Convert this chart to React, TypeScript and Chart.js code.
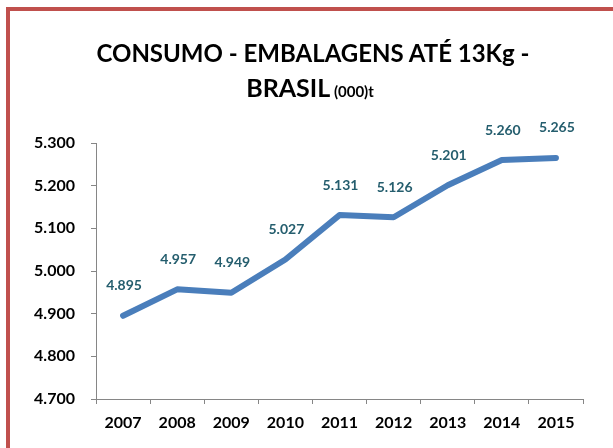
import React, { useEffect, useRef } from "react";
import { Chart, registerables } from "chart.js";

Chart.register(...registerables);

const years: string[] = ["2007", "2008", "2009", "2010", "2011", "2012", "2013", "2014", "2015"];
const consumo: number[] = [4895, 4957, 4949, 5027, 5131, 5126, 5201, 5260, 5265];
const yMin = 4700;
const yMax = 5300;
const yStep = 100;
const titleLine1 = "CONSUMO - EMBALAGENS ATÉ 13Kg -";
const titleLine2Main = "BRASIL";
const titleLine2Unit = "(000)t";

const FONT = "Lato, 'Open Sans', sans-serif";

const fmt = (n: number): string =>
  String(Math.round(n)).replace(/\B(?=(\d{3})+(?!\d))/g, ".");

const labelPlugin = {
  id: "pointLabels",
  afterDatasetsDraw(chart: any) {
    const ctx = chart.ctx;
    const meta = chart.getDatasetMeta(0);
    const data = chart.data.datasets[0].data as number[];
    ctx.save();
    ctx.font = `bold 14px ${FONT}`;
    ctx.fillStyle = "#255E6E";
    ctx.textAlign = "center";
    ctx.textBaseline = "middle";
    meta.data.forEach((pt: any, i: number) => {
      ctx.fillText(fmt(data[i]), pt.x + 1, pt.y - 30);
    });
    ctx.restore();
  },
};

export default function App() {
  const ref = useRef<HTMLCanvasElement | null>(null);

  useEffect(() => {
    if (!ref.current) return;
    const chart = new Chart(ref.current, {
      type: "line",
      data: {
        labels: years,
        datasets: [
          {
            data: consumo,
            borderColor: "#4A7EBB",
            backgroundColor: "#4A7EBB",
            borderWidth: 6,
            pointRadius: 0,
            pointHoverRadius: 0,
            borderCapStyle: "round",
            borderJoinStyle: "round",
            tension: 0,
          },
        ],
      },
      options: {
        responsive: false,
        animation: false,
        events: [],
        layout: { padding: { left: 0, top: 143, right: 30, bottom: 0 } },
        plugins: {
          legend: { display: false },
          title: { display: false },
          tooltip: { enabled: false },
        },
        scales: {
          x: {
            type: "category",
            offset: true,
            grid: {
              offset: true,
              drawOnChartArea: false,
              drawTicks: true,
              tickLength: 5,
              color: "#868686",
            },
            border: { color: "#868686", width: 1 },
            ticks: {
              color: "#000000",
              font: { family: FONT, size: 16, weight: "bold" },
              padding: 9,
              maxRotation: 0,
            },
            afterFit: (s: any) => {
              s.height = 49;
            },
          },
          y: {
            min: yMin,
            max: yMax,
            grid: {
              drawOnChartArea: false,
              drawTicks: true,
              tickLength: 5,
              color: "#868686",
            },
            border: { color: "#868686", width: 1 },
            ticks: {
              stepSize: yStep,
              color: "#000000",
              font: { family: FONT, size: 16, weight: "bold" },
              padding: 16,
              callback: (v: any) => fmt(Number(v)),
            },
            afterFit: (s: any) => {
              s.width = 96;
            },
          },
        },
      },
      plugins: [labelPlugin],
    });
    return () => chart.destroy();
  }, []);

  return (
    <div
      style={{
        position: "absolute",
        left: 0,
        top: 0,
        width: 613,
        height: 448,
        overflow: "hidden",
        background: "#ffffff",
      }}
    >
      <div
        style={{
          position: "absolute",
          left: 6,
          top: 7,
          width: 800,
          height: 800,
          border: "4px solid #C0504D",
        }}
      />
      <canvas
        ref={ref}
        width={613}
        height={448}
        style={{ position: "absolute", left: 0, top: 0, width: 613, height: 448 }}
      />
      <div
        style={{
          position: "absolute",
          left: 63,
          top: 41,
          width: 500,
          textAlign: "center",
          fontFamily: FONT,
          fontWeight: "bold",
          fontSize: 24,
          lineHeight: 1,
          color: "#000000",
          whiteSpace: "nowrap",
        }}
      >
        {titleLine1}
      </div>
      <div
        style={{
          position: "absolute",
          left: 60,
          top: 75,
          width: 500,
          textAlign: "center",
          fontFamily: FONT,
          fontWeight: "bold",
          fontSize: 25,
          lineHeight: 1,
          color: "#000000",
          whiteSpace: "nowrap",
        }}
      >
        {titleLine2Main}
        <span style={{ fontSize: 15 }}> {titleLine2Unit}</span>
      </div>
    </div>
  );
}
